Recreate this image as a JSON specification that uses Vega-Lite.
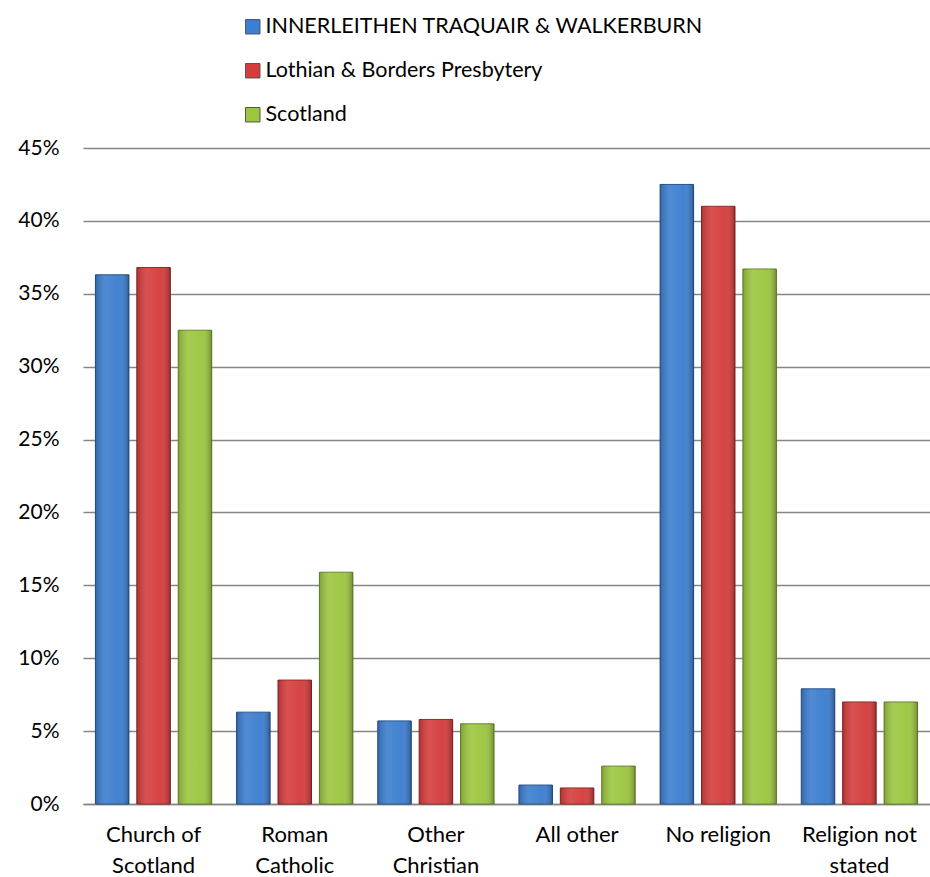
{
  "$schema": "https://vega.github.io/schema/vega-lite/v6.json",
  "width": 847,
  "height": 656,
  "autosize": {"type": "none"},
  "padding": {"left": 83, "top": 148, "right": 0, "bottom": 73},
  "background": "white",
  "config": {"font": "Lato", "view": {"stroke": null}},
  "data": {
    "values": [
      {"category": "Church of Scotland", "series": "INNERLEITHEN TRAQUAIR & WALKERBURN", "value": 0.363},
      {"category": "Church of Scotland", "series": "Lothian & Borders Presbytery", "value": 0.368},
      {"category": "Church of Scotland", "series": "Scotland", "value": 0.325},
      {"category": "Roman Catholic", "series": "INNERLEITHEN TRAQUAIR & WALKERBURN", "value": 0.063},
      {"category": "Roman Catholic", "series": "Lothian & Borders Presbytery", "value": 0.085},
      {"category": "Roman Catholic", "series": "Scotland", "value": 0.159},
      {"category": "Other Christian", "series": "INNERLEITHEN TRAQUAIR & WALKERBURN", "value": 0.057},
      {"category": "Other Christian", "series": "Lothian & Borders Presbytery", "value": 0.058},
      {"category": "Other Christian", "series": "Scotland", "value": 0.055},
      {"category": "All other", "series": "INNERLEITHEN TRAQUAIR & WALKERBURN", "value": 0.013},
      {"category": "All other", "series": "Lothian & Borders Presbytery", "value": 0.011},
      {"category": "All other", "series": "Scotland", "value": 0.026},
      {"category": "No religion", "series": "INNERLEITHEN TRAQUAIR & WALKERBURN", "value": 0.425},
      {"category": "No religion", "series": "Lothian & Borders Presbytery", "value": 0.410},
      {"category": "No religion", "series": "Scotland", "value": 0.367},
      {"category": "Religion not stated", "series": "INNERLEITHEN TRAQUAIR & WALKERBURN", "value": 0.079},
      {"category": "Religion not stated", "series": "Lothian & Borders Presbytery", "value": 0.070},
      {"category": "Religion not stated", "series": "Scotland", "value": 0.070}
    ]
  },
  "encoding": {
    "x": {
      "field": "category",
      "type": "nominal",
      "sort": ["Church of Scotland", "Roman Catholic", "Other Christian", "All other", "No religion", "Religion not stated"],
      "scale": {"paddingInner": 0.176, "paddingOuter": 0.088},
      "axis": {
        "title": null,
        "labelAngle": 0,
        "labelFontSize": 22,
        "labelColor": "#000000",
        "labelPadding": 20,
        "labelLineHeight": 31,
        "ticks": false,
        "domainColor": "#868686",
        "domainWidth": 1.5,
        "labelExpr": "datum.label == 'Church of Scotland' ? ['Church of', 'Scotland'] : datum.label == 'Roman Catholic' ? ['Roman', 'Catholic'] : datum.label == 'Other Christian' ? ['Other', 'Christian'] : datum.label == 'Religion not stated' ? ['Religion not', 'stated'] : datum.label"
      }
    },
    "xOffset": {
      "field": "series",
      "type": "nominal",
      "sort": ["INNERLEITHEN TRAQUAIR & WALKERBURN", "Lothian & Borders Presbytery", "Scotland"],
      "scale": {"paddingInner": 0.19, "paddingOuter": 0}
    },
    "y": {
      "field": "value",
      "type": "quantitative",
      "scale": {"domain": [0, 0.45], "nice": false},
      "axis": {
        "title": null,
        "format": ".0%",
        "values": [0, 0.05, 0.1, 0.15, 0.2, 0.25, 0.3, 0.35, 0.4, 0.45],
        "labelFontSize": 21,
        "labelColor": "#000000",
        "labelPadding": 24,
        "ticks": false,
        "domain": false,
        "gridColor": "#868686",
        "gridWidth": 1.5
      }
    }
  },
  "layer": [
    {
      "mark": {"type": "bar", "strokeWidth": 1},
      "encoding": {
        "color": {
          "field": "series",
          "type": "nominal",
          "sort": ["INNERLEITHEN TRAQUAIR & WALKERBURN", "Lothian & Borders Presbytery", "Scotland"],
          "scale": {"range": ["#3C7ECF", "#D53D3D", "#9CC640"]},
          "legend": {
            "title": null,
            "orient": "none",
            "legendX": 159,
            "legendY": -132,
            "direction": "vertical",
            "symbolType": "square",
            "symbolSize": 210,
            "symbolStrokeWidth": 1,
            "symbolStrokeColor": "#555555",
            "labelFontSize": 21.5,
            "labelColor": "#000000",
            "labelOffset": 2,
            "rowPadding": 21,
            "labelLimit": 600
          }
        },
        "stroke": {
          "field": "series",
          "type": "nominal",
          "sort": ["INNERLEITHEN TRAQUAIR & WALKERBURN", "Lothian & Borders Presbytery", "Scotland"],
          "scale": {"range": ["#24508A", "#8E2525", "#66832A"]},
          "legend": null
        }
      }
    },
    {
      "mark": {
        "type": "bar",
        "fill": {
          "gradient": "linear",
          "x1": 0, "x2": 1, "y1": 0, "y2": 0,
          "stops": [
            {"offset": 0, "color": "rgba(0,0,0,0.18)"},
            {"offset": 0.3, "color": "rgba(255,255,255,0.10)"},
            {"offset": 0.7, "color": "rgba(255,255,255,0.03)"},
            {"offset": 1, "color": "rgba(0,0,0,0.28)"}
          ]
        }
      }
    }
  ]
}
